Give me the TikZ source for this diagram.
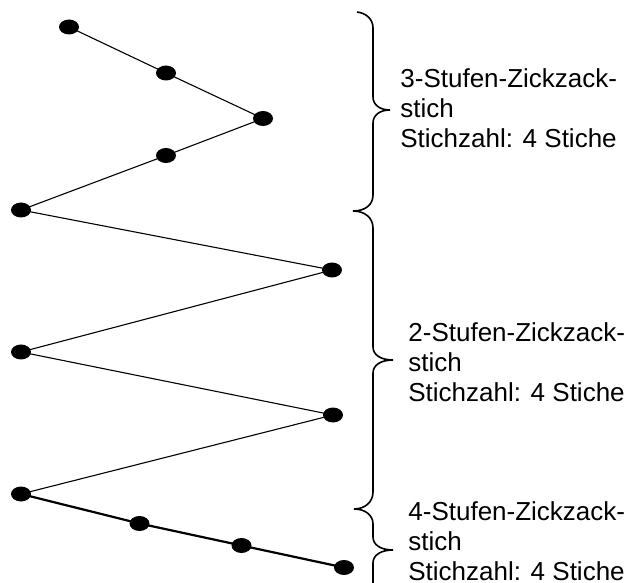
\documentclass[tikz,border=0pt]{standalone}
\usepackage{fontspec}
\setmainfont{Liberation Sans}
\usetikzlibrary{shapes.geometric}
\begin{document}
\begin{tikzpicture}[x=0.5pt,y=-0.5pt,
  dot/.style={ellipse,fill=black,draw=none,inner sep=0pt,minimum width=10pt,minimum height=7.5pt},
  stitch/.style={line width=0.55pt},
  thick stitch/.style={line width=1.1pt},
  brace line/.style={line width=0.8pt},
  label/.style={anchor=base west,inner sep=0pt,align=left,font=\fontsize{13pt}{15pt}\selectfont}]
\useasboundingbox (0,0) rectangle (633,583);
\clip (0,0) rectangle (633,583);
% dots
\node[dot] (p1) at (69,27) {};
\node[dot] (p2) at (166,73) {};
\node[dot] (p3) at (263,118.5) {};
\node[dot] (p4) at (166,155.5) {};
\node[dot] (p5) at (21,210) {};
\node[dot] (p6) at (332,270) {};
\node[dot] (p7) at (21,352) {};
\node[dot] (p8) at (333,415) {};
\node[dot] (p9) at (21,494) {};
\node[dot] (p10) at (139.5,523.5) {};
\node[dot] (p11) at (241.5,545.5) {};
\node[dot] (p12) at (344,567.5) {};
% stitches
\draw[stitch] (p1.center) -- (p2.center) -- (p3.center) -- (p4.center) -- (p5.center)
  -- (p6.center) -- (p7.center) -- (p8.center) -- (p9.center);
\draw[thick stitch] (p9.center) -- (p10.center) -- (p11.center) -- (p12.center);
% braces
\draw[brace line] (357,12) .. controls (366,13) and (373,19) .. (373,28) -- (373,97)
  .. controls (373,105) and (380,110) .. (390,110)
  .. controls (380,110) and (373,115) .. (373,123) -- (373,195)
  .. controls (373,205) and (365,211) .. (353,211);
\draw[brace line] (353,211) .. controls (365,211) and (373,218) .. (373,228) -- (373,347)
  .. controls (373,355) and (381,360) .. (393,360)
  .. controls (381,360) and (373,365) .. (373,373) -- (373,492)
  .. controls (373,502) and (365,509) .. (354,509);
\draw[brace line] (354,509) .. controls (365,509) and (373,515) .. (373,524) -- (373,537)
  .. controls (373,545) and (381,550) .. (393,550)
  .. controls (381,550) and (373,555) .. (373,563) -- (373,595);
% labels (anchor at the baseline of the last line)
\node[label] (t1) at (400,148) {3-Stufen-Zickzack-\\stich\\Stichzahl: 4 Stiche};
\node[label] (t2) at (408,401) {2-Stufen-Zickzack-\\stich\\Stichzahl: 4 Stiche};
\node[label] (t3) at (408,580) {4-Stufen-Zickzack-\\stich\\Stichzahl: 4 Stiche};
\end{tikzpicture}
\end{document}
